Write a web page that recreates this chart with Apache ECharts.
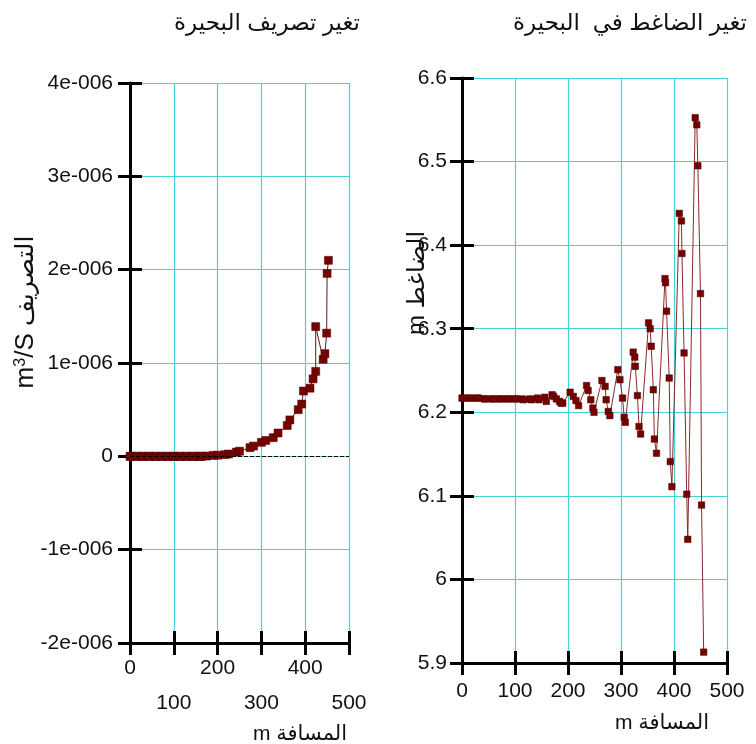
<!DOCTYPE html>
<html>
<head>
<meta charset="utf-8">
<script src="https://cdn.jsdelivr.net/npm/echarts@6/dist/echarts.min.js"></script>
<style>
html,body{margin:0;padding:0;background:#fff;}
#chart{width:756px;height:744px;}
</style>
</head>
<body>
<div id="chart"></div>
<script>
// ---- Left chart: discharge (m3/s) vs distance (m)
const leftTitle = 'تغير تصريف البحيرة';
const leftYNameUnit = ['m', '3', '/S '];
const leftYNameWord = 'التصريف';
const leftXName = 'm المسافة';
const leftX = [0,3,14,17,28,31,42,45,57,60,71,74,85,88,99,102,113,116,128,131,142,145,156,159,164,175,190,200,217,225,243,250,274,282,300,310,327,338,359,365,384,392,396,411,418,424,424,441,445,449,450,453];
const leftQ = [0,0,0,0,0,0,0,0,0,0,0,0,0,0,0,0,0,0,0,0,0,0,0,0,0.0,0.003e-6,0.01e-6,0.012e-6,0.018e-6,0.025e-6,0.046e-6,0.055e-6,0.093e-6,0.11e-6,0.15e-6,0.17e-6,0.2e-6,0.25e-6,0.33e-6,0.39e-6,0.5e-6,0.56e-6,0.7e-6,0.73e-6,0.83e-6,0.91e-6,1.39e-6,1.04e-6,1.1e-6,1.32e-6,1.96e-6,2.1e-6];
const leftYTicks = {min:-2e-6, max:4e-6, interval:1e-6};
const leftXTicks = {min:0, max:500, interval:100};

// ---- Right chart: head (m) vs distance (m)
const rightTitle = 'تغير الضاغط في  البحيرة';
const rightYName = 'm الضاغط';
const rightXName = 'm المسافة';
const rightX = [0,3,14,17,28,31,42,45,57,60,71,74,85,88,99,102,113,116,128,131,142,145,156,159,170,173,178,184,187,190,204,210,215,220,235,238,243,247,249,264,270,272,276,279,294,298,303,306,308,323,326,327,331,334,337,352,355,357,361,363,367,383,384,386,391,393,396,410,414,415,419,424,426,440,443,445,450,452,456];
const rightH = [6.217,6.217,6.217,6.217,6.217,6.217,6.216,6.216,6.216,6.216,6.216,6.216,6.216,6.216,6.216,6.216,6.216,6.215,6.216,6.215,6.217,6.215,6.218,6.213,6.221,6.219,6.216,6.213,6.211,6.211,6.224,6.219,6.214,6.208,6.232,6.226,6.215,6.205,6.2,6.238,6.231,6.215,6.201,6.196,6.251,6.239,6.217,6.194,6.188,6.272,6.266,6.255,6.22,6.183,6.174,6.307,6.3,6.279,6.227,6.168,6.151,6.36,6.355,6.321,6.241,6.141,6.111,6.438,6.429,6.39,6.271,6.102,6.048,6.5525,6.544,6.495,6.342,6.089,5.913];
const rightYTicks = {min:5.9, max:6.6, interval:0.1};
const rightXTicks = {min:0, max:500, interval:100};

const FONT = 'Liberation Sans, Arial, DejaVu Sans, sans-serif';
const GRIDC = '#45d3d3';
const LBL = 21;
const leftPts = leftX.map((x,i)=>[x,leftQ[i]]);
const rightPts = rightX.map((x,i)=>[x,rightH[i]]);

function fmtE(v){
  const n = Math.round(v*1e6);
  if (n === 0) return '0';
  return n + 'e-006';
}
function fmtH(v){ return String(Number(v.toFixed(1))); }

function mainX(grid, t, labelCfg){
  return {type:'value', gridIndex:grid, min:t.min, max:t.max, interval:t.interval,
    axisLine:{show:true, onZero:false, lineStyle:{color:'#000', width:3}},
    axisTick:{show:true, inside:false, length:12, lineStyle:{color:'#000', width:3}},
    splitLine:{show:true, lineStyle:{color:GRIDC, width:1.2}},
    axisLabel: labelCfg};
}
function innerX(grid, t){
  return {type:'value', gridIndex:grid, min:t.min, max:t.max, interval:t.interval, position:'bottom',
    axisLine:{show:false, onZero:false}, axisTick:{show:true, inside:true, length:12, lineStyle:{color:'#000', width:3}},
    splitLine:{show:false}, axisLabel:{show:false}};
}
function mainY(grid, t, fmt, margin){
  return {type:'value', gridIndex:grid, min:t.min, max:t.max, interval:t.interval,
    axisLine:{show:true, onZero:false, lineStyle:{color:'#000', width:3}},
    axisTick:{show:true, inside:false, length:12, lineStyle:{color:'#000', width:3}},
    splitLine:{show:true, lineStyle:{color:GRIDC, width:1.2}},
    axisLabel:{formatter:fmt, color:'#111', fontSize:LBL, fontFamily:FONT, margin:margin}};
}
function innerY(grid, t){
  return {type:'value', gridIndex:grid, min:t.min, max:t.max, interval:t.interval, position:'left',
    axisLine:{show:false, onZero:false}, axisTick:{show:true, inside:true, length:12, lineStyle:{color:'#000', width:3}},
    splitLine:{show:false}, axisLabel:{show:false}};
}

const chart = echarts.init(document.getElementById('chart'), null, {renderer:'canvas'});
chart.setOption({
  backgroundColor:'#fff',
  animation:false,
  grid:[
    {left:130, top:83, width:219, height:560},
    {left:462, top:78, width:265, height:585}
  ],
  xAxis:[
    mainX(0, leftXTicks, {color:'#111', fontSize:LBL, fontFamily:FONT, margin:8, lineHeight:35, verticalAlign:'top',
      formatter:(v)=> (Math.round(v/100)%2===1 ? '\n'+v : String(v))}),
    innerX(0, leftXTicks),
    mainX(1, rightXTicks, {color:'#111', fontSize:LBL, fontFamily:FONT, margin:18}),
    innerX(1, rightXTicks)
  ],
  yAxis:[
    mainY(0, leftYTicks, fmtE, 17),
    innerY(0, leftYTicks),
    mainY(1, rightYTicks, fmtH, 15),
    innerY(1, rightYTicks)
  ],
  series:[
    {type:'line', xAxisIndex:0, yAxisIndex:0, data:leftPts, symbol:'rect', symbolSize:8,
      lineStyle:{color:'#5a1a1a', width:1}, itemStyle:{color:'#760000', borderColor:'#4a0000', borderWidth:0.5},
      markLine:{silent:true, symbol:'none', label:{show:false},
        lineStyle:{color:'#000', type:'dashed', width:1}, data:[{yAxis:0}]}, z:3},
    {type:'line', xAxisIndex:2, yAxisIndex:2, data:rightPts, symbol:'rect', symbolSize:6.5,
      lineStyle:{color:'#8b2a2a', width:1}, itemStyle:{color:'#760000', borderColor:'#4a0000', borderWidth:0.5}, z:3}
  ],
  graphic:[
    {type:'text', x:267, y:24, style:{text:leftTitle, fontSize:23, fontFamily:FONT, fill:'#111', align:'center', verticalAlign:'middle'}},
    {type:'text', x:630, y:24, style:{text:rightTitle, fontSize:23, fontFamily:FONT, fill:'#111', align:'center', verticalAlign:'middle'}},
    {type:'text', x:26, y:312, rotation:Math.PI/2, style:{
      text:'{a|'+leftYNameUnit[0]+'}{s|'+leftYNameUnit[1]+'}{a|'+leftYNameUnit[2]+'}{b|'+leftYNameWord+'}',
      align:'center', verticalAlign:'middle', fill:'#111',
      rich:{a:{fontSize:26, fontFamily:FONT, fill:'#111'}, s:{fontSize:16, fontFamily:FONT, fill:'#111', verticalAlign:'top'}, b:{fontSize:25, fontFamily:FONT, fill:'#111'}}}},
    {type:'text', x:417, y:283, rotation:Math.PI/2, style:{text:rightYName, fontSize:24, fontFamily:FONT, fill:'#111', align:'center', verticalAlign:'middle'}},
    {type:'text', x:300, y:734, style:{text:leftXName, fontSize:21, fontFamily:FONT, fill:'#111', align:'center', verticalAlign:'middle'}},
    {type:'text', x:662, y:723, style:{text:rightXName, fontSize:21, fontFamily:FONT, fill:'#111', align:'center', verticalAlign:'middle'}}
  ]
});
</script>
</body>
</html>
